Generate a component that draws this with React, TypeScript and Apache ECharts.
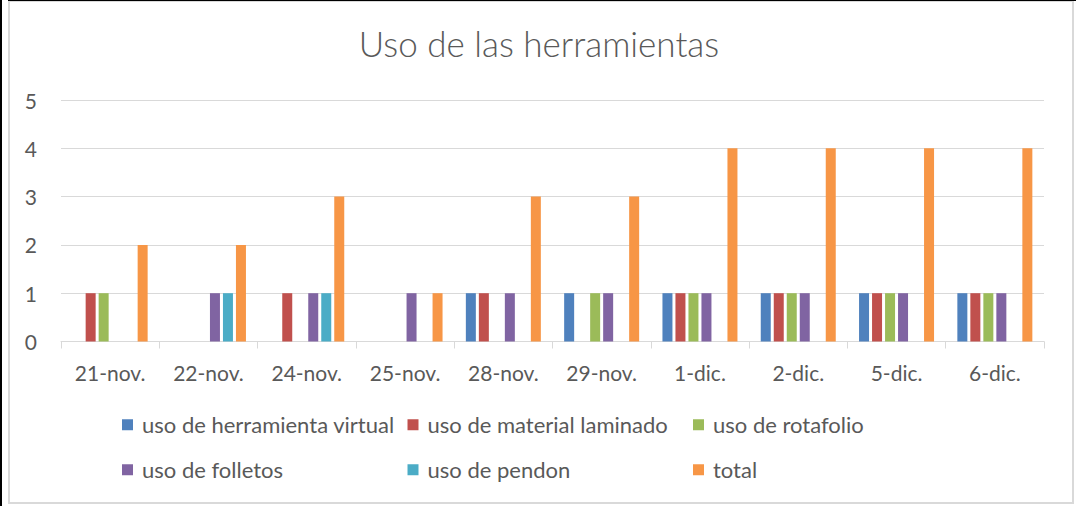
import React, { useEffect, useRef } from "react";
import * as echarts from "echarts";

const categories = ["21-nov.", "22-nov.", "24-nov.", "25-nov.", "28-nov.", "29-nov.", "1-dic.", "2-dic.", "5-dic.", "6-dic."];
const seriesNames = [
  "uso de herramienta virtual",
  "uso de material laminado",
  "uso de rotafolio",
  "uso de folletos",
  "uso de pendon",
  "total",
];
const virtual = [0, 0, 0, 0, 1, 1, 1, 1, 1, 1];
const laminado = [1, 0, 1, 0, 1, 0, 1, 1, 1, 1];
const rotafolio = [1, 0, 0, 0, 0, 1, 1, 1, 1, 1];
const folletos = [0, 1, 1, 1, 1, 1, 1, 1, 1, 1];
const pendon = [0, 1, 1, 0, 0, 0, 0, 0, 0, 0];
const total = [2, 2, 3, 1, 3, 3, 4, 4, 4, 4];
const colors = ["#4F81BD", "#C0504D", "#9BBB59", "#8064A2", "#4BACC6", "#F79646"];
const yTicks = [0, 1, 2, 3, 4, 5];

export default function App() {
  const ref = useRef<HTMLDivElement>(null);
  useEffect(() => {
    if (!ref.current) return;
    const chart = echarts.init(ref.current, null, { renderer: "svg" });
    const values = [virtual, laminado, rotafolio, folletos, pendon, total];
    const font = "Lato, 'Open Sans', sans-serif";
    chart.setOption({
      animation: false,
      backgroundColor: "#ffffff",
      color: colors,
      title: {
        text: "Uso de las herramientas",
        left: "center",
        top: 25,
        padding: 0,
        textStyle: { fontFamily: font, fontSize: 35, fontWeight: 300, color: "#595959" },
      },
      grid: { left: 61, right: 34, top: 100, bottom: 164.5, containLabel: false },
      legend: {
        left: 122,
        top: 405,
        width: 880,
        padding: 0,
        itemWidth: 11,
        itemHeight: 11,
        itemGap: 5.5,
        icon: "rect",
        data: seriesNames,
        textStyle: {
          fontFamily: font,
          fontSize: 22,
          color: "#595959",
          width: 260,
          lineHeight: 39.5,
          padding: [0, 0, 0, 4],
        },
      },
      xAxis: {
        type: "category",
        data: categories,
        axisLine: { lineStyle: { color: "#d9d9d9", width: 1 } },
        axisTick: { show: true, length: 7, lineStyle: { color: "#d9d9d9" } },
        axisLabel: { fontFamily: font, fontSize: 21, color: "#595959", margin: 20 },
      },
      yAxis: {
        type: "value",
        min: yTicks[0],
        max: yTicks[yTicks.length - 1],
        interval: 1,
        axisLine: { show: false },
        axisTick: { show: false },
        splitLine: { lineStyle: { color: "#d9d9d9", width: 1 } },
        axisLabel: { fontFamily: font, fontSize: 21, color: "#595959", margin: 24 },
      },
      series: seriesNames.map((name, i) => ({
        name,
        type: "bar",
        data: values[i],
        barWidth: 10,
        barGap: "30%",
        itemStyle: { color: colors[i] },
      })),
      graphic: [
        {
          type: "rect",
          shape: { x: 9, y: 1, width: 1064, height: 502 },
          style: { fill: "none", stroke: "#d9d9d9", lineWidth: 2 },
          silent: true,
        },
        {
          type: "rect",
          shape: { x: 0, y: 0, width: 2, height: 506 },
          style: { fill: "#000000" },
          silent: true,
        },
        {
          type: "rect",
          shape: { x: 8, y: 0, width: 1068, height: 1 },
          style: { fill: "#000000" },
          silent: true,
        },
      ],
    });
    return () => chart.dispose();
  }, []);
  return (
    <div
      ref={ref}
      style={{ position: "absolute", left: 0, top: 0, width: 1078, height: 506 }}
    />
  );
}
